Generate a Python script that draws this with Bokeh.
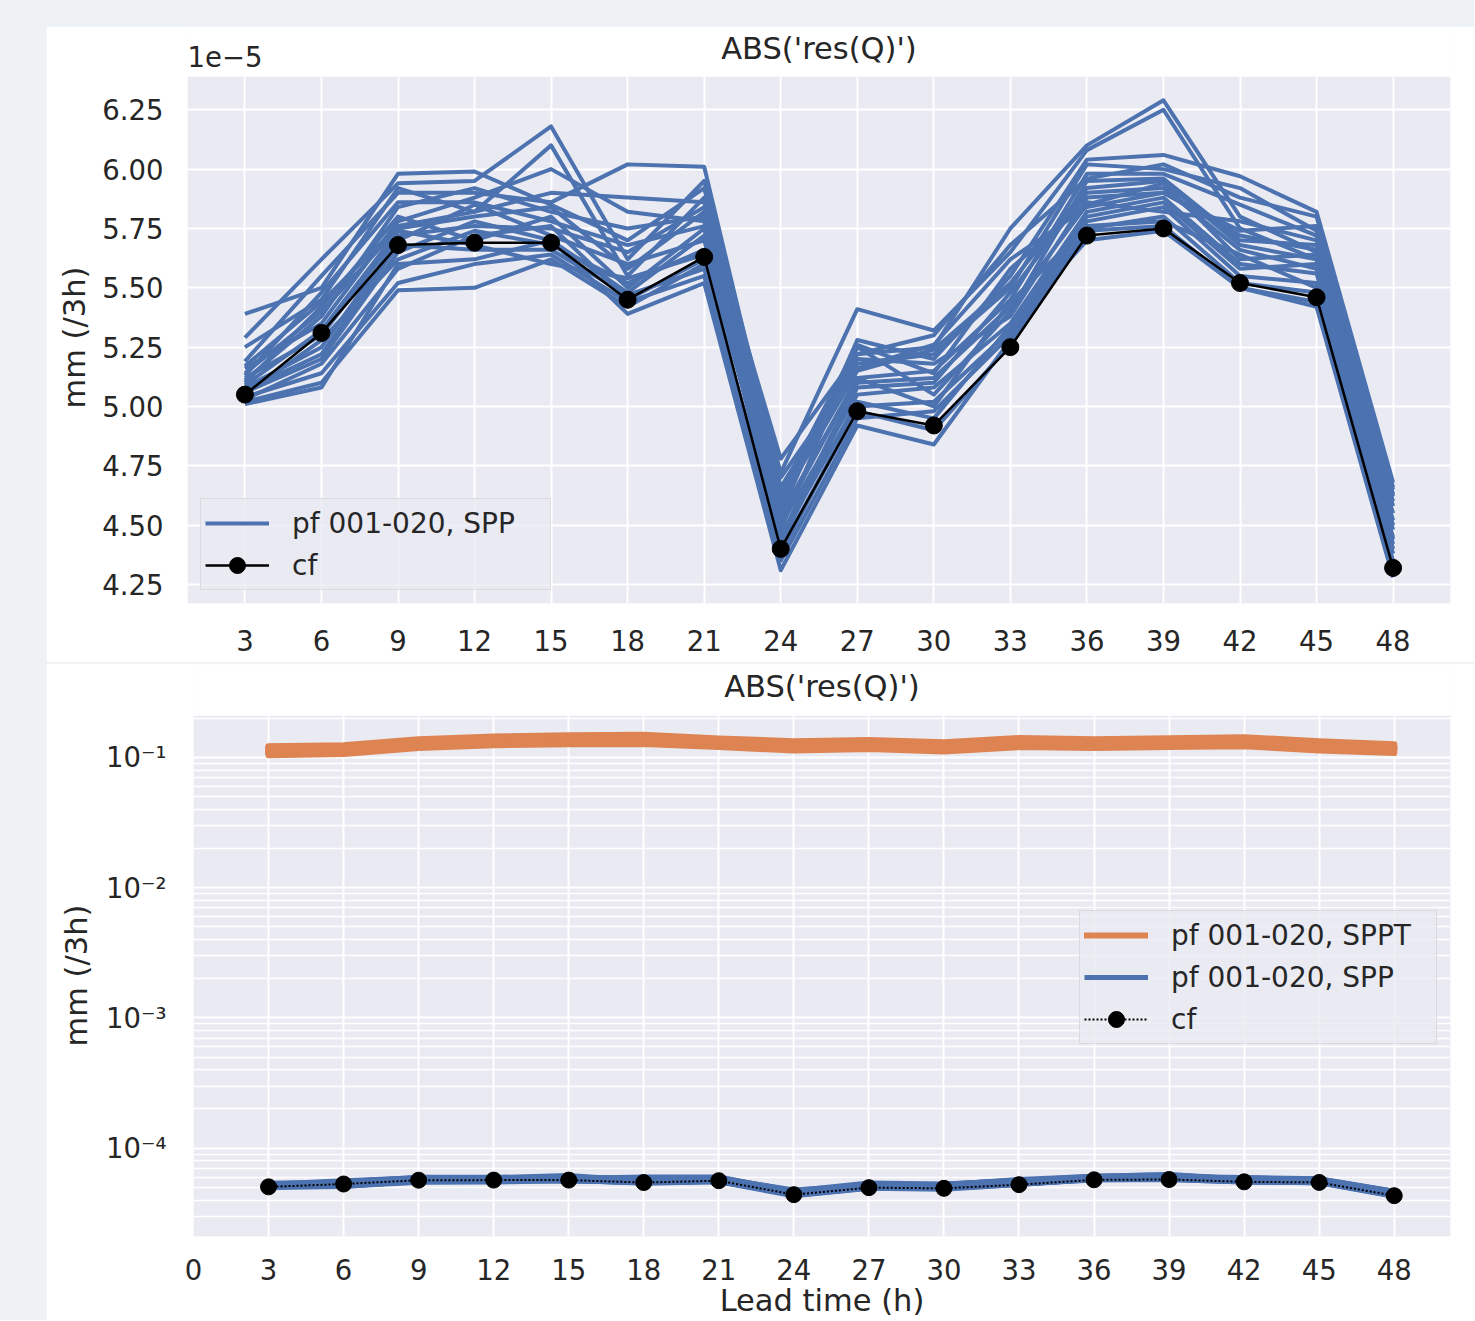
from bokeh.plotting import figure
from bokeh.models import (Range1d, FixedTicker, Legend, LegendItem, Label, Spacer,
                          NumeralTickFormatter, BoxAnnotation, Title)
from bokeh.layouts import column, row
from bokeh.embed import file_html
from bokeh.resources import INLINE

# ---------------- data ----------------
lead_time = [3, 6, 9, 12, 15, 18, 21, 24, 27, 30, 33, 36, 39, 42, 45, 48]
xticks_bottom = [0, 3, 6, 9, 12, 15, 18, 21, 24, 27, 30, 33, 36, 39, 42, 45, 48]
yticks_top = [4.25, 4.50, 4.75, 5.00, 5.25, 5.50, 5.75, 6.00, 6.25]
yticks_log = [1e-4, 1e-3, 1e-2, 1e-1]
yticks_log_labels = ["10\u207b\u2074", "10\u207b\u00b3", "10\u207b\u00b2", "10\u207b\u00b9"]
yticks_log_minor = [2e-5, 3e-5, 4e-5, 5e-5, 6e-5, 7e-5, 8e-5, 9e-5,
                    2e-4, 3e-4, 4e-4, 5e-4, 6e-4, 7e-4, 8e-4, 9e-4,
                    2e-3, 3e-3, 4e-3, 5e-3, 6e-3, 7e-3, 8e-3, 9e-3,
                    2e-2, 3e-2, 4e-2, 5e-2, 6e-2, 7e-2, 8e-2, 9e-2,
                    2e-1]

SPP_UNIT = 1e-5   # SPP / cf values below are in units of 1e-5 mm (/3h)
SPPT_UNIT = 1e-1  # SPPT values below are in units of 1e-1 mm (/3h)

spp_m01 = [5.39, 5.50, 5.98, 5.99, 5.85, 5.70, 5.92, 4.62, 5.22, 5.25, 5.75, 6.10, 6.29, 5.80, 5.65, 4.55]
spp_m02 = [5.29, 5.62, 5.94, 5.95, 6.18, 5.62, 5.95, 4.72, 5.41, 5.32, 5.65, 6.08, 6.25, 5.75, 5.62, 4.60]
spp_m03 = [5.25, 5.45, 5.92, 5.82, 6.10, 5.55, 5.88, 4.55, 5.28, 5.20, 5.55, 6.04, 6.06, 5.97, 5.82, 4.68]
spp_m04 = [5.19, 5.55, 5.90, 5.90, 5.86, 6.02, 6.01, 4.66, 5.18, 5.22, 5.50, 6.02, 6.00, 5.92, 5.74, 4.65]
spp_m05 = [5.16, 5.35, 5.78, 5.88, 6.00, 5.82, 5.78, 4.52, 5.12, 5.15, 5.45, 5.98, 5.98, 5.85, 5.72, 4.62]
spp_m06 = [5.14, 5.40, 5.75, 5.80, 5.84, 5.58, 5.82, 4.48, 5.25, 5.05, 5.40, 5.95, 5.96, 5.70, 5.68, 4.58]
spp_m07 = [5.12, 5.30, 5.72, 5.76, 5.75, 5.65, 5.84, 4.60, 5.15, 5.24, 5.52, 5.92, 5.95, 5.68, 5.62, 4.52]
spp_m08 = [5.10, 5.42, 5.80, 5.70, 5.80, 5.50, 5.75, 4.42, 5.08, 5.10, 5.48, 5.90, 5.92, 5.66, 5.58, 4.48]
spp_m09 = [5.08, 5.25, 5.70, 5.85, 5.72, 5.60, 5.70, 4.58, 5.20, 5.18, 5.38, 5.88, 5.90, 5.72, 5.66, 4.44]
spp_m10 = [5.06, 5.20, 5.65, 5.78, 5.70, 5.48, 5.72, 4.45, 5.10, 5.12, 5.42, 5.85, 5.94, 5.62, 5.64, 4.40]
spp_m11 = [5.05, 5.28, 5.62, 5.74, 5.68, 5.52, 5.66, 4.50, 5.05, 5.08, 5.35, 5.82, 5.88, 5.60, 5.56, 4.42]
spp_m12 = [5.03, 5.18, 5.58, 5.72, 5.76, 5.45, 5.62, 4.38, 5.00, 5.02, 5.32, 5.80, 5.86, 5.58, 5.60, 4.38]
spp_m13 = [5.02, 5.10, 5.49, 5.50, 5.62, 5.42, 5.60, 4.35, 4.95, 4.98, 5.30, 5.78, 5.84, 5.55, 5.52, 4.35]
spp_m14 = [5.01, 5.08, 5.60, 5.62, 5.70, 5.39, 5.52, 4.31, 4.92, 4.84, 5.28, 5.75, 5.80, 5.52, 5.48, 4.30]
spp_m15 = [5.04, 5.14, 5.52, 5.60, 5.64, 5.44, 5.55, 4.40, 4.98, 4.90, 5.26, 5.74, 5.76, 5.50, 5.44, 4.33]
spp_m16 = [5.07, 5.22, 5.68, 5.66, 5.66, 5.47, 5.58, 4.44, 5.02, 4.95, 5.34, 5.70, 5.74, 5.50, 5.42, 4.28]
spp_m17 = [5.09, 5.32, 5.74, 5.68, 5.60, 5.54, 5.64, 4.54, 5.12, 5.00, 5.44, 5.76, 5.78, 5.64, 5.50, 4.45]
spp_m18 = [5.11, 5.38, 5.84, 5.92, 5.82, 5.75, 5.80, 4.64, 5.26, 5.14, 5.58, 5.86, 5.82, 5.78, 5.70, 4.50]
spp_m19 = [5.13, 5.48, 5.86, 5.86, 5.78, 5.68, 5.76, 4.70, 5.16, 5.26, 5.62, 5.84, 5.90, 5.74, 5.76, 4.63]
spp_m20 = [5.17, 5.44, 5.76, 5.82, 5.90, 5.88, 5.86, 4.78, 5.22, 5.30, 5.68, 5.96, 6.02, 5.88, 5.80, 4.66]

cf_values = [5.05, 5.31, 5.68, 5.69, 5.69, 5.45, 5.63, 4.40, 4.98, 4.92, 5.25, 5.72, 5.75, 5.52, 5.46, 4.32]

sppt_m01 = [1.22, 1.24, 1.38, 1.45, 1.48, 1.49, 1.40, 1.33, 1.36, 1.31, 1.41, 1.38, 1.40, 1.43, 1.33, 1.26]
sppt_m02 = [1.04, 1.06, 1.18, 1.24, 1.26, 1.27, 1.20, 1.13, 1.16, 1.11, 1.20, 1.18, 1.20, 1.22, 1.13, 1.08]
sppt_m03 = [1.18, 1.12, 1.30, 1.40, 1.33, 1.42, 1.28, 1.27, 1.22, 1.25, 1.34, 1.24, 1.35, 1.28, 1.27, 1.14]
sppt_m04 = [1.09, 1.19, 1.24, 1.31, 1.41, 1.33, 1.34, 1.19, 1.30, 1.17, 1.26, 1.32, 1.26, 1.36, 1.19, 1.21]
sppt_m05 = [1.15, 1.17, 1.32, 1.33, 1.38, 1.35, 1.26, 1.25, 1.28, 1.23, 1.28, 1.30, 1.33, 1.30, 1.25, 1.19]
sppt_m06 = [1.11, 1.13, 1.25, 1.37, 1.35, 1.39, 1.32, 1.21, 1.24, 1.19, 1.32, 1.26, 1.28, 1.34, 1.21, 1.15]
sppt_m07 = [1.20, 1.16, 1.34, 1.30, 1.43, 1.31, 1.36, 1.29, 1.20, 1.27, 1.24, 1.34, 1.36, 1.26, 1.29, 1.20]
sppt_m08 = [1.06, 1.14, 1.22, 1.38, 1.31, 1.44, 1.25, 1.17, 1.32, 1.15, 1.36, 1.22, 1.24, 1.39, 1.17, 1.12]
sppt_m09 = [1.14, 1.21, 1.29, 1.34, 1.36, 1.36, 1.29, 1.24, 1.25, 1.22, 1.29, 1.29, 1.31, 1.31, 1.24, 1.18]
sppt_m10 = [1.12, 1.10, 1.27, 1.36, 1.39, 1.38, 1.31, 1.22, 1.27, 1.20, 1.31, 1.27, 1.29, 1.33, 1.22, 1.16]
sppt_m11 = [1.17, 1.18, 1.33, 1.32, 1.34, 1.34, 1.27, 1.26, 1.23, 1.24, 1.27, 1.31, 1.34, 1.29, 1.26, 1.19]
sppt_m12 = [1.10, 1.15, 1.26, 1.39, 1.40, 1.40, 1.33, 1.20, 1.29, 1.18, 1.33, 1.25, 1.27, 1.35, 1.20, 1.14]
sppt_m13 = [1.16, 1.20, 1.31, 1.35, 1.37, 1.37, 1.30, 1.23, 1.26, 1.21, 1.30, 1.28, 1.30, 1.32, 1.23, 1.17]
sppt_m14 = [1.08, 1.12, 1.23, 1.33, 1.32, 1.36, 1.28, 1.18, 1.24, 1.16, 1.28, 1.24, 1.26, 1.30, 1.18, 1.13]
sppt_m15 = [1.19, 1.18, 1.35, 1.37, 1.42, 1.39, 1.34, 1.28, 1.28, 1.26, 1.33, 1.33, 1.35, 1.34, 1.28, 1.22]
sppt_m16 = [1.13, 1.15, 1.28, 1.35, 1.37, 1.37, 1.30, 1.23, 1.26, 1.21, 1.30, 1.28, 1.30, 1.32, 1.23, 1.17]
sppt_m17 = [1.07, 1.09, 1.21, 1.29, 1.30, 1.32, 1.24, 1.16, 1.21, 1.14, 1.25, 1.21, 1.23, 1.27, 1.16, 1.10]
sppt_m18 = [1.21, 1.22, 1.36, 1.42, 1.45, 1.45, 1.38, 1.31, 1.33, 1.29, 1.38, 1.36, 1.38, 1.40, 1.31, 1.24]
sppt_m19 = [1.12, 1.16, 1.27, 1.34, 1.36, 1.38, 1.29, 1.22, 1.27, 1.20, 1.29, 1.27, 1.31, 1.31, 1.22, 1.18]
sppt_m20 = [1.14, 1.14, 1.29, 1.36, 1.38, 1.36, 1.31, 1.24, 1.25, 1.22, 1.31, 1.29, 1.29, 1.33, 1.24, 1.16]

spp_members = [spp_m01, spp_m02, spp_m03, spp_m04, spp_m05, spp_m06, spp_m07, spp_m08, spp_m09, spp_m10,
               spp_m11, spp_m12, spp_m13, spp_m14, spp_m15, spp_m16, spp_m17, spp_m18, spp_m19, spp_m20]
sppt_members = [sppt_m01, sppt_m02, sppt_m03, sppt_m04, sppt_m05, sppt_m06, sppt_m07, sppt_m08, sppt_m09, sppt_m10,
                sppt_m11, sppt_m12, sppt_m13, sppt_m14, sppt_m15, sppt_m16, sppt_m17, sppt_m18, sppt_m19, sppt_m20]

# ---------------- style ----------------
FONT = "DejaVu Sans"
TXT = "#262626"
BLUE = "#4c72b0"
ORANGE = "#dd8452"
BG = "#eaeaf2"
PAGE_BG = "#eef2f5"
FIG_W = 1428
TITLE_SIZE = "30.5px"
TICK_SIZE = "27.5px"
LEGEND_SIZE = "28px"


def style(p):
    p.outline_line_color = None
    for ax in p.axis:
        ax.axis_line_color = None
        ax.major_tick_line_color = None
        ax.minor_tick_line_color = None
        ax.major_tick_out = 0
        ax.major_tick_in = 0
        ax.minor_tick_out = 0
        ax.minor_tick_in = 0
        ax.major_label_text_font = FONT
        ax.major_label_text_font_size = TICK_SIZE
        ax.major_label_text_color = TXT
        ax.axis_label_text_font = FONT
        ax.axis_label_text_font_size = TITLE_SIZE
        ax.axis_label_text_font_style = "normal"
        ax.axis_label_text_color = TXT
    p.grid.grid_line_color = "white"
    p.grid.grid_line_width = 2


def shade_axes_area(p, top):
    # seaborn-like grey axes area below `top`, plain white above (room for the titles)
    p.add_layout(BoxAnnotation(top=top, fill_color=BG, fill_alpha=1, line_color=None, level="image"))
    p.add_layout(BoxAnnotation(bottom=top, fill_color="white", fill_alpha=1, line_color=None,
                               level="underlay"))


def add_ylabel(p, text, offset, standoff):
    # y-axis label placed along the shaded area (not centred on the whole frame)
    p.add_layout(Title(text=text, align="left", offset=offset, standoff=standoff, text_font=FONT,
                       text_font_size=TITLE_SIZE, text_font_style="normal", text_color=TXT), "left")


def style_legend(lg, label_width):
    lg.label_text_font = FONT
    lg.label_text_font_size = LEGEND_SIZE
    lg.label_text_color = TXT
    lg.background_fill_color = BG
    lg.background_fill_alpha = 0.8
    lg.border_line_color = "#cccccc"
    lg.border_line_width = 1.5
    lg.glyph_width = 64
    lg.glyph_height = 40
    lg.label_height = 40
    lg.label_width = label_width
    lg.label_standoff = 23
    lg.spacing = 2
    lg.padding = 4
    lg.margin = 13


# ---------------- top panel ----------------
GRAY_TOP = 6.39  # upper limit of the shaded axes area
p1 = figure(width=FIG_W, height=636, output_backend="svg", toolbar_location=None,
            x_range=Range1d(0.75, 50.25), y_range=Range1d(4.17, 6.584),
            min_border_left=141, min_border_right=24, min_border_top=4, min_border_bottom=59,
            background_fill_color="white", border_fill_color="white")
style(p1)
shade_axes_area(p1, GRAY_TOP)
p1.xaxis.ticker = FixedTicker(ticks=lead_time)
p1.yaxis.ticker = FixedTicker(ticks=yticks_top)
p1.yaxis.formatter = NumeralTickFormatter(format="0.00")
p1.yaxis.major_label_standoff = 24
p1.xaxis.major_label_standoff = 26
add_ylabel(p1, "mm (/3h)", 195, 15)

blue_top = []
for m in spp_members:
    blue_top.append(p1.line(lead_time, m, line_color=BLUE, line_width=4, line_join="round"))
cf_l1 = p1.line(lead_time, cf_values, line_color="black", line_width=2.5)
cf_s1 = p1.scatter(lead_time, cf_values, size=17, marker="circle", fill_color="black", line_color="black")

lg1 = Legend(items=[LegendItem(label="pf 001-020, SPP", renderers=[blue_top[0]]),
                    LegendItem(label="cf", renderers=[cf_l1, cf_s1])],
             location="bottom_left")
style_legend(lg1, 254)
p1.add_layout(lg1)

p1.add_layout(Label(x=(p1.x_range.start + p1.x_range.end) / 2, y=GRAY_TOP, text="ABS('res(Q)')",
                    text_align="center", text_baseline="middle", y_offset=28, text_font=FONT,
                    text_font_size=TITLE_SIZE, text_color=TXT))
p1.add_layout(Label(x=p1.x_range.start, y=GRAY_TOP, text="1e\u22125", text_align="left",
                    text_baseline="alphabetic", y_offset=20, text_font=FONT, text_font_size=TICK_SIZE,
                    text_color=TXT))

# ---------------- bottom panel ----------------
GRAY_TOP_LOG = 0.21  # upper limit of the shaded axes area (log axis)
p2 = figure(width=FIG_W, height=657, output_backend="svg", toolbar_location=None,
            x_range=Range1d(0, 50.25), y_range=Range1d(2.1e-5, 0.49), y_axis_type="log",
            min_border_left=147, min_border_right=24, min_border_top=4, min_border_bottom=80,
            background_fill_color="white", border_fill_color="white")
style(p2)
shade_axes_area(p2, GRAY_TOP_LOG)
p2.xaxis.ticker = FixedTicker(ticks=xticks_bottom)
p2.yaxis.ticker = FixedTicker(ticks=yticks_log, minor_ticks=yticks_log_minor)
p2.yaxis.major_label_overrides = dict(zip(yticks_log, yticks_log_labels))
p2.xaxis.axis_label = "Lead time (h)"
p2.yaxis.major_label_standoff = 27
p2.xaxis.major_label_standoff = 22
p2.xaxis.axis_label_standoff = 0
p2.ygrid.minor_grid_line_color = "white"
p2.ygrid.minor_grid_line_width = 1.5
add_ylabel(p2, "mm (/3h)", 190, 17)

orange_r = []
for m in sppt_members:
    orange_r.append(p2.line(lead_time, [v * SPPT_UNIT for v in m], line_color=ORANGE, line_width=6,
                            line_join="round", line_cap="round"))
blue_r = []
for m in spp_members:
    blue_r.append(p2.line(lead_time, [v * SPP_UNIT for v in m], line_color=BLUE, line_width=5,
                          line_join="round"))
cf_scaled = [v * SPP_UNIT for v in cf_values]
cf_l2 = p2.line(lead_time, cf_scaled, line_color="black", line_width=2, line_dash="2 2")
cf_s2 = p2.scatter(lead_time, cf_scaled, size=16, marker="circle", fill_color="black", line_color="black")

lg2 = Legend(items=[LegendItem(label="pf 001-020, SPPT", renderers=[orange_r[0]]),
                    LegendItem(label="pf 001-020, SPP", renderers=[blue_r[0]]),
                    LegendItem(label="cf", renderers=[cf_l2, cf_s2])],
             location=(886, 192))
style_legend(lg2, 261)
p2.add_layout(lg2)

p2.add_layout(Label(x=(p2.x_range.start + p2.x_range.end) / 2, y=GRAY_TOP_LOG, text="ABS('res(Q)')",
                    text_align="center", text_baseline="middle", y_offset=29, text_font=FONT,
                    text_font_size=TITLE_SIZE, text_color=TXT))

# ---------------- page ----------------
page = column(Spacer(width=46 + FIG_W, height=26),
              row(Spacer(width=46, height=636), p1),
              Spacer(width=46 + FIG_W, height=1),
              row(Spacer(width=46, height=657), p2),
              styles={"background-color": PAGE_BG})

open("out.html", "w").write(file_html(page, INLINE))
